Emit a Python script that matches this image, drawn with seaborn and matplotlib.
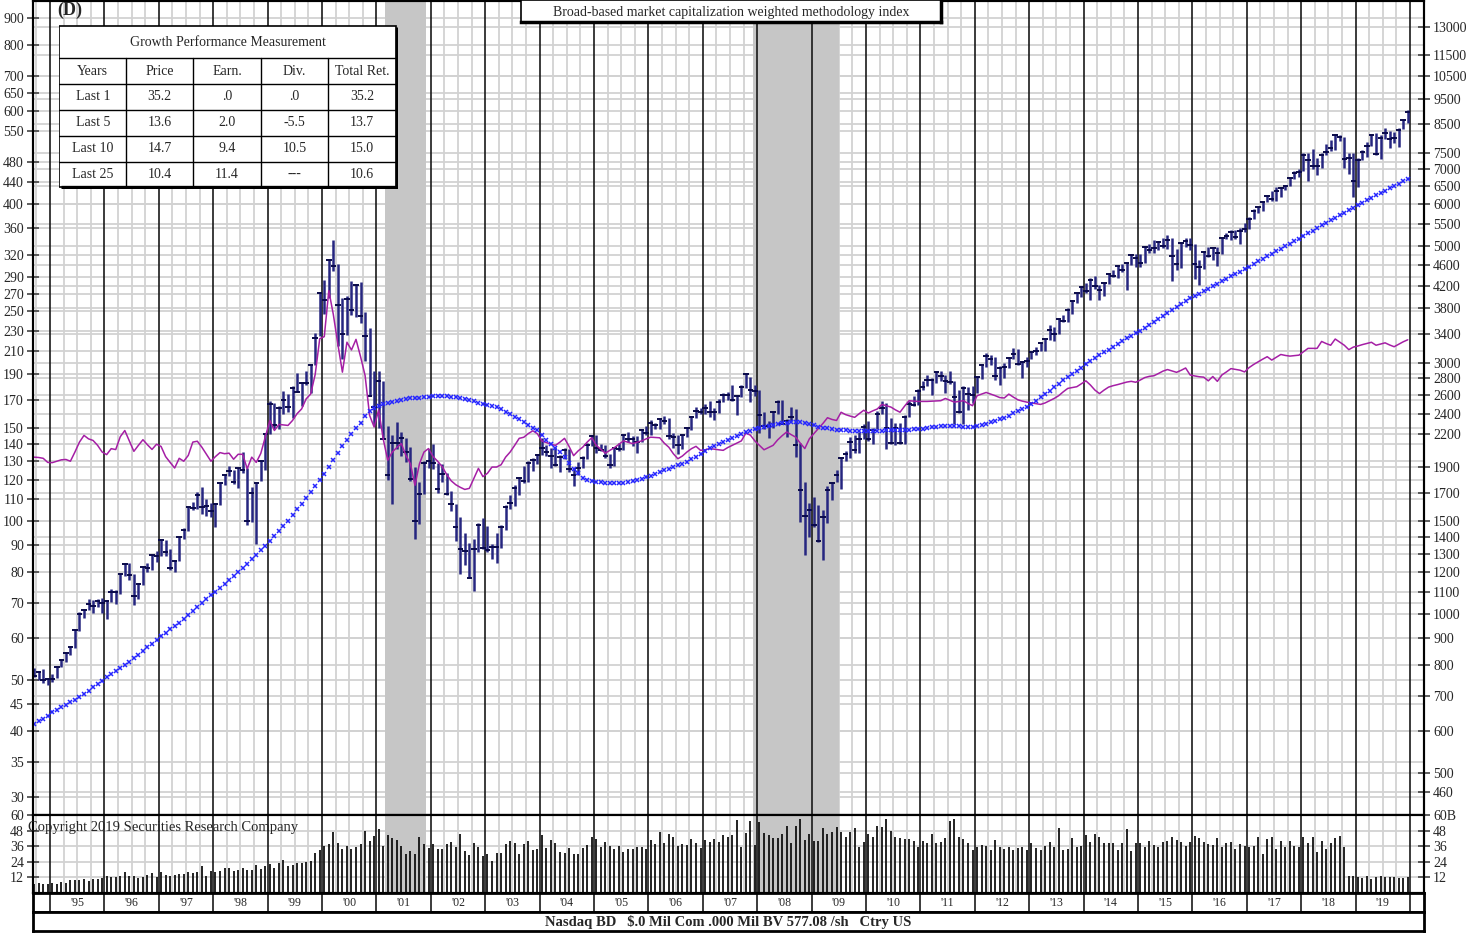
import numpy as np
import pandas as pd
import seaborn as sns
import matplotlib.pyplot as plt

# ---- data (index points, monthly Sep 1994 .. Dec 2019) ----
months = pd.date_range('1994-09-01', '2019-12-01', freq='MS')

close = [764, 777, 750, 752,
         755, 793, 817, 843, 865, 933, 1001, 1020, 1044, 1036, 1059, 1052,
         1060, 1100, 1101, 1191, 1243, 1185, 1081, 1141, 1227, 1222, 1293, 1291,
         1380, 1309, 1222, 1261, 1400, 1442, 1594, 1587, 1686, 1594, 1601, 1570,
         1619, 1771, 1835, 1868, 1779, 1895, 1873, 1499, 1694, 1771, 1950, 2193,
         2506, 2288, 2461, 2543, 2471, 2686, 2638, 2739, 2746, 2966, 3336, 4069,
         3940, 4697, 4573, 3861, 3401, 3966, 3767, 4206, 3673, 3370, 2598, 2471,
         2773, 2152, 1840, 2116, 2110, 2161, 2027, 1805, 1499, 1690, 1931, 1950,
         1934, 1731, 1845, 1688, 1616, 1463, 1328, 1315, 1172, 1330, 1479, 1336,
         1321, 1338, 1341, 1464, 1596, 1623, 1735, 1810, 1787, 1932, 1960, 2003,
         2066, 2030, 1994, 1920, 1987, 2048, 1887, 1838, 1897, 1975, 2097, 2175,
         2062, 2052, 1999, 1922, 2068, 2057, 2185, 2152, 2152, 2120, 2233, 2205,
         2306, 2281, 2340, 2323, 2179, 2172, 2091, 2184, 2258, 2367, 2432, 2415,
         2464, 2416, 2422, 2525, 2605, 2603, 2546, 2596, 2702, 2859, 2661, 2652,
         2390, 2271, 2279, 2413, 2523, 2293, 2326, 2368, 2092, 1721, 1536, 1577,
         1476, 1378, 1529, 1717, 1774, 1835, 1979, 2009, 2122, 2045, 2145, 2269,
         2147, 2238, 2398, 2461, 2257, 2109, 2255, 2114, 2369, 2507, 2498, 2653,
         2700, 2782, 2781, 2874, 2835, 2774, 2756, 2579, 2415, 2684, 2620, 2605,
         2814, 2967, 3092, 3046, 2827, 2935, 2940, 3067, 3116, 2977, 3010, 3020,
         3142, 3160, 3268, 3329, 3456, 3403, 3626, 3590, 3771, 3920, 4060, 4177,
         4104, 4308, 4199, 4115, 4243, 4408, 4370, 4580, 4493, 4631, 4792, 4736,
         4635, 4964, 4901, 4941, 5070, 4987, 5128, 4777, 4620, 5054, 5109, 5007,
         4614, 4558, 4870, 4775, 4948, 4843, 5162, 5213, 5312, 5189, 5324, 5383,
         5615, 5825, 5912, 6048, 6199, 6140, 6348, 6429, 6496, 6728, 6874, 6903,
         7411, 7273, 7063, 7066, 7442, 7510, 7672, 8110, 8046, 7306, 7331, 6635,
         7282, 7533, 7729, 8095, 7453, 8006, 8175, 7963, 7999, 8292, 8665, 8973]

high = [792, 781, 786, 758,
        770, 794, 822, 845, 869, 936, 1011, 1024, 1067, 1066, 1070, 1074,
        1066, 1114, 1111, 1191, 1249, 1249, 1190, 1146, 1227, 1249, 1293, 1316,
        1383, 1380, 1329, 1268, 1400, 1454, 1595, 1635, 1705, 1745, 1650, 1624,
        1619, 1771, 1842, 1911, 1876, 1895, 2028, 1893, 1745, 1772, 1950, 2200,
        2533, 2510, 2484, 2652, 2611, 2706, 2864, 2743, 2887, 2966, 3421, 4090,
        4303, 4697, 5132, 4617, 3969, 4012, 4290, 4233, 4260, 3748, 3488, 2890,
        2892, 2763, 2274, 2183, 2313, 2213, 2156, 2074, 1900, 1779, 1954, 2059,
        2098, 1935, 1929, 1849, 1714, 1621, 1528, 1427, 1364, 1386, 1492, 1521,
        1467, 1360, 1424, 1477, 1611, 1682, 1757, 1817, 1908, 1951, 1981, 2009,
        2154, 2092, 2070, 2079, 2001, 2064, 2054, 1890, 1941, 1999, 2107, 2191,
        2191, 2099, 2094, 2010, 2079, 2109, 2190, 2219, 2178, 2175, 2242, 2278,
        2333, 2300, 2345, 2375, 2354, 2205, 2185, 2186, 2261, 2378, 2468, 2465,
        2509, 2532, 2462, 2563, 2626, 2642, 2724, 2609, 2720, 2861, 2811, 2725,
        2661, 2420, 2326, 2423, 2551, 2550, 2341, 2473, 2451, 2112, 1781, 1626,
        1667, 1608, 1573, 1750, 1774, 1877, 1984, 2043, 2167, 2190, 2214, 2295,
        2326, 2250, 2423, 2535, 2519, 2353, 2305, 2306, 2384, 2534, 2592, 2671,
        2766, 2840, 2799, 2887, 2887, 2843, 2887, 2766, 2662, 2707, 2698, 2713,
        2828, 2980, 3134, 3097, 3075, 2954, 3000, 3079, 3196, 3182, 3023, 3069,
        3154, 3213, 3270, 3331, 3532, 3499, 3627, 3693, 3808, 3947, 4069, 4177,
        4246, 4342, 4371, 4210, 4247, 4409, 4486, 4580, 4610, 4641, 4810, 4814,
        4815, 4983, 5042, 5120, 5111, 5164, 5232, 5175, 4918, 5086, 5163, 5176,
        5040, 4689, 4893, 4969, 4958, 4980, 5180, 5272, 5343, 5343, 5400, 5513,
        5663, 5867, 5929, 6075, 6221, 6341, 6460, 6460, 6507, 6748, 6914, 6993,
        7506, 7486, 7637, 7318, 7487, 7806, 7934, 8133, 8110, 8049, 7486, 7486,
        7319, 7585, 7850, 8140, 8165, 8098, 8340, 8241, 8209, 8353, 8705, 9052]

low = [760, 751, 740, 735,
       743, 757, 793, 811, 838, 864, 931, 985, 1020, 1003, 1030, 1005,
       978, 1055, 1045, 1093, 1182, 1160, 1043, 1067, 1135, 1201, 1214, 1256,
       1291, 1289, 1212, 1201, 1262, 1390, 1435, 1578, 1586, 1547, 1538, 1527,
       1465, 1612, 1754, 1830, 1764, 1736, 1853, 1479, 1493, 1357, 1787, 1880,
       2194, 2240, 2247, 2392, 2413, 2355, 2638, 2486, 2715, 2627, 2962, 3363,
       3711, 3974, 4470, 3227, 3042, 3391, 3687, 3667, 3569, 3027, 2597, 2289,
       2251, 2152, 1794, 1619, 2059, 1995, 1944, 1791, 1387, 1480, 1687, 1891,
       1887, 1696, 1779, 1686, 1566, 1375, 1193, 1241, 1172, 1108, 1311, 1332,
       1314, 1271, 1253, 1335, 1445, 1585, 1602, 1681, 1770, 1784, 1867, 1926,
       2002, 1996, 1897, 1909, 1858, 1968, 1863, 1750, 1834, 1890, 1969, 2083,
       2021, 2040, 1978, 1890, 1911, 2035, 2050, 2124, 2088, 2025, 2118, 2183,
       2189, 2240, 2240, 2290, 2150, 2065, 2012, 2059, 2165, 2235, 2356, 2392,
       2394, 2370, 2331, 2406, 2525, 2551, 2538, 2386, 2580, 2681, 2528, 2589,
       2202, 2245, 2155, 2255, 2398, 2290, 2167, 2325, 1983, 1493, 1295, 1399,
       1465, 1372, 1265, 1492, 1647, 1780, 1727, 1955, 1980, 2024, 2025, 2151,
       2134, 2100, 2240, 2394, 2061, 2106, 2091, 2101, 2106, 2362, 2480, 2490,
       2665, 2705, 2603, 2743, 2766, 2629, 2736, 2299, 2411, 2298, 2441, 2519,
       2629, 2793, 2941, 2966, 2778, 2726, 2810, 2936, 3043, 2962, 2810, 2941,
       3045, 3105, 3149, 3154, 3310, 3295, 3400, 3577, 3586, 3715, 3884, 3997,
       4070, 3946, 4140, 3946, 4013, 4222, 4352, 4340, 4462, 4117, 4594, 4547,
       4563, 4628, 4838, 4844, 4899, 4953, 4933, 4292, 4487, 4542, 4973, 4899,
       4313, 4210, 4513, 4755, 4690, 4575, 4823, 5157, 5125, 5155, 5034, 5317,
       5377, 5607, 5765, 5806, 6040, 6081, 6086, 6177, 6374, 6485, 6678, 6751,
       6937, 6631, 6990, 6805, 7011, 7439, 7573, 7604, 7903, 7002, 6831, 6190,
       6457, 7254, 7359, 7735, 7440, 7292, 7964, 7662, 7811, 7700, 8305, 8542]

# long-term moving average (blue x line)
moving_avg = [620, 627, 634, 641,
              652, 659, 666, 673, 680, 688, 696, 706, 716, 726, 736, 748,
              760, 770, 780, 790, 800, 812, 824, 837, 851, 865, 879, 894,
              908, 922, 936, 950, 964, 980, 996, 1013, 1030, 1048, 1067, 1086,
              1103, 1122, 1141, 1160, 1180, 1202, 1224, 1247, 1270, 1295, 1321, 1348,
              1376, 1405, 1436, 1468, 1502, 1540, 1580, 1620, 1662, 1706, 1752, 1800,
              1845, 1900, 1960, 2020, 2080, 2140, 2195, 2250, 2305, 2375, 2425, 2458,
              2480, 2500, 2515, 2528, 2540, 2550, 2558, 2565, 2570, 2575, 2580, 2583,
              2587, 2590, 2590, 2588, 2584, 2578, 2570, 2560, 2548, 2535, 2520, 2505,
              2495, 2482, 2468, 2450, 2420, 2395, 2370, 2340, 2310, 2285, 2258, 2232,
              2190, 2140, 2100, 2070, 2030, 1985, 1935, 1885, 1850, 1815, 1800, 1790,
              1780, 1777, 1775, 1773, 1772, 1772, 1773, 1778, 1785, 1795, 1805, 1818,
              1830, 1845, 1860, 1873, 1887, 1900, 1915, 1930, 1947, 1965, 1985, 2010,
              2035, 2062, 2085, 2105, 2125, 2143, 2160, 2178, 2195, 2212, 2228, 2243,
              2255, 2265, 2275, 2285, 2293, 2300, 2306, 2310, 2313, 2310, 2303, 2293,
              2280, 2268, 2258, 2250, 2243, 2238, 2234, 2231, 2230, 2229, 2228, 2228,
              2228, 2228, 2229, 2230, 2231, 2232, 2233, 2234, 2236, 2238, 2240, 2243,
              2248, 2254, 2260, 2265, 2270, 2272, 2273, 2272, 2270, 2267, 2265, 2266,
              2270, 2282, 2296, 2311, 2327, 2343, 2360, 2380, 2402, 2425, 2450, 2476,
              2505, 2540, 2578, 2616, 2655, 2695, 2735, 2775, 2815, 2855, 2895, 2935,
              2975, 3015, 3055, 3095, 3135, 3175, 3215, 3255, 3295, 3335, 3375, 3415,
              3445, 3490, 3535, 3580, 3625, 3675, 3725, 3775, 3825, 3875, 3925, 3970,
              4010, 4055, 4100, 4145, 4190, 4235, 4280, 4325, 4370, 4415, 4462, 4510,
              4560, 4612, 4665, 4718, 4770, 4823, 4876, 4930, 4985, 5040, 5095, 5150,
              5210, 5272, 5335, 5398, 5461, 5524, 5587, 5650, 5713, 5776, 5840, 5905,
              5965, 6030, 6095, 6160, 6225, 6290, 6355, 6420, 6487, 6553, 6620, 6686]

# relative strength line (magenta), plotted on the same scale
rel_strength = [1985, 1982, 1975, 1940,
                1938, 1950, 1962, 1965, 1950, 2030, 2120, 2183, 2150, 2135, 2090, 2030,
                2007, 2060, 2052, 2170, 2230, 2130, 2036, 2090, 2142, 2095, 2053, 2100,
                2080, 1990, 1940, 1893, 1975, 1950, 2000, 2120, 2128, 2073, 2010, 1950,
                1990, 2025, 2015, 2020, 1967, 2010, 2010, 1887, 1985, 1940, 2018, 2170,
                2330, 2230, 2290, 2285, 2280, 2330, 2400, 2450, 2560, 2615, 2850, 3330,
                3360, 4107, 3700, 3250, 2877, 3279, 3170, 3320, 3080, 2836, 2382, 2264,
                2440, 2150, 1958, 2030, 2070, 2106, 2000, 1929, 1755, 1929, 2030, 2061,
                1990, 1950, 1905, 1840, 1790, 1760, 1740, 1724, 1732, 1810, 1890, 1823,
                1850, 1901, 1901, 1920, 1985, 2030, 2090, 2155, 2165, 2200, 2227, 2199,
                2131, 2115, 2100, 2090, 2120, 2155, 2080, 1998, 2040, 2073, 2120, 2161,
                2090, 2055, 2020, 2045, 2069, 2100, 2131, 2118, 2106, 2118, 2131, 2150,
                2166, 2163, 2160, 2110, 2073, 2015, 1971, 1995, 2030, 2060, 2081, 2045,
                2050, 2061, 2055, 2050, 2045, 2070, 2090, 2110, 2131, 2205, 2185, 2130,
                2090, 2050, 2070, 2090, 2140, 2180, 2216, 2190, 2166, 2110, 2061, 2150,
                2200, 2250, 2300, 2358, 2340, 2330, 2415, 2390, 2375, 2362, 2400, 2436,
                2407, 2430, 2450, 2499, 2485, 2470, 2440, 2415, 2480, 2540, 2535, 2532,
                2532, 2532, 2535, 2538, 2540, 2565, 2545, 2524, 2532, 2540, 2510, 2485,
                2596, 2615, 2633, 2615, 2596, 2575, 2570, 2614, 2580, 2550, 2535, 2524,
                2515, 2507, 2499, 2515, 2540, 2565, 2596, 2640, 2680, 2690, 2700, 2735,
                2770, 2720, 2660, 2620, 2660, 2695, 2712, 2725, 2740, 2755, 2764, 2753,
                2780, 2810, 2825, 2832, 2860, 2890, 2910, 2892, 2875, 2900, 2930, 2842,
                2830, 2820, 2815, 2770, 2823, 2764, 2842, 2880, 2922, 2912, 2902, 2880,
                2935, 2975, 3010, 3045, 3078, 3033, 3070, 3108, 3095, 3086, 3092, 3099,
                3145, 3192, 3192, 3192, 3290, 3260, 3236, 3325, 3280, 3236, 3174, 3210,
                3225, 3245, 3262, 3278, 3236, 3253, 3270, 3240, 3215, 3250, 3285, 3314]

# monthly volume (billions)
volume = [6.9, 7.7, 7.1, 7.1,
          7.7, 7.1, 8.4, 7.9, 9.7, 10.2, 9.7, 11.0, 8.9, 11.0, 11.0, 11.2,
          12.8, 12.2, 12.2, 12.8, 16.3, 12.8, 13.3, 11.2, 12.0, 14.0, 15.3, 12.5,
          15.8, 13.5, 13.3, 14.0, 14.3, 14.3, 16.3, 15.3, 16.3, 20.7, 13.0, 16.6,
          15.8, 16.6, 18.9, 19.1, 16.8, 17.9, 19.6, 17.9, 17.9, 21.4, 18.6, 20.7,
          22.4, 19.1, 22.7, 25.5, 20.4, 21.4, 23.0, 23.0, 23.5, 24.7, 31.1, 33.4,
          36.0, 37.8, 46.7, 38.3, 33.7, 36.0, 33.7, 35.7, 37.8, 48.0, 40.3, 44.1,
          49.0, 36.2, 44.6, 42.1, 40.8, 36.5, 29.8, 32.4, 30.1, 43.1, 37.8, 35.0,
          38.0, 33.9, 33.9, 38.0, 39.5, 35.2, 45.7, 32.4, 29.1, 38.3, 35.2, 28.6,
          30.1, 24.7, 30.9, 30.6, 37.8, 40.3, 38.3, 30.1, 37.5, 40.3, 33.2, 33.7,
          44.4, 34.4, 41.1, 38.8, 31.9, 31.1, 35.0, 30.1, 30.1, 34.4, 37.0, 43.1,
          41.6, 35.7, 39.0, 36.2, 33.9, 36.2, 31.9, 33.7, 33.9, 35.7, 35.2, 33.9,
          40.8, 37.5, 46.7, 38.3, 45.2, 42.9, 36.2, 37.5, 37.0, 41.3, 38.8, 34.4,
          40.8, 39.5, 41.3, 39.5, 44.4, 42.9, 44.6, 56.1, 35.2, 46.4, 55.6, 36.7,
          54.8, 45.9, 44.4, 42.1, 42.3, 45.2, 51.5, 38.8, 51.5, 56.6, 40.8, 45.4,
          40.0, 40.3, 49.7, 45.4, 46.7, 50.5, 46.7, 43.4, 47.2, 50.0, 35.7, 39.0,
          45.4, 42.9, 51.5, 50.5, 57.1, 47.7, 43.4, 42.6, 41.3, 41.3, 40.3, 35.7,
          40.3, 38.8, 45.4, 38.3, 39.5, 42.6, 55.4, 56.9, 43.4, 41.8, 38.3, 33.2,
          35.7, 37.0, 36.2, 33.2, 40.8, 35.2, 33.7, 35.2, 33.2, 34.4, 35.2, 33.2,
          38.3, 35.0, 33.2, 36.2, 39.0, 35.7, 49.7, 32.7, 33.7, 42.1, 35.2, 36.2,
          44.4, 39.3, 45.7, 43.4, 38.3, 38.3, 38.8, 33.2, 38.3, 49.0, 32.4, 38.3,
          38.3, 35.2, 40.3, 36.7, 35.7, 39.5, 40.3, 42.9, 40.8, 39.5, 36.2, 39.5,
          43.9, 42.1, 39.5, 37.5, 37.0, 42.1, 35.7, 38.3, 39.5, 33.9, 37.8, 36.2,
          35.7, 36.2, 42.9, 30.1, 41.3, 42.9, 33.7, 40.3, 35.7, 40.3, 36.2, 35.7,
          42.9, 38.8, 42.9, 31.9, 40.3, 33.7, 38.3, 42.6, 43.9, 35.2, 12.8, 13.3,
          12.0, 11.2, 13.3, 10.7, 12.5, 12.8, 12.0, 12.2, 12.0, 11.7, 11.2, 12.2]

left_ticks = [900, 800, 700, 650, 600, 550, 480, 440, 400, 360, 320, 290, 270, 250, 230,
              210, 190, 170, 150, 140, 130, 120, 110, 100, 90, 80, 70, 60, 50, 45, 40, 35, 30]
right_ticks = [13000, 11500, 10500, 9500, 8500, 7500, 7000, 6500, 6000, 5500, 5000, 4600,
               4200, 3800, 3400, 3000, 2800, 2600, 2400, 2200, 1900, 1700, 1500, 1400, 1300,
               1200, 1100, 1000, 900, 800, 700, 600, 500, 460]
left_factor = 15  # left scale = index / 15
vol_ticks = [12, 24, 36, 48, 60]
vol_left_labels = ['12', '24', '36', '48', '60']
vol_right_labels = ['12', '24', '36', '48', '60B']
recessions = [('2001-03-01', '2001-12-01'), ('2007-12-01', '2009-07-01')]
year_labels = ["'95", "'96", "'97", "'98", "'99", "'00", "'01", "'02", "'03", "'04", "'05",
               "'06", "'07", "'08", "'09", "'10", "'11", "'12", "'13", "'14", "'15", "'16",
               "'17", "'18", "'19"]

table_title = 'Growth Performance Measurement'
table_header = ['Years', 'Price', 'Earn.', 'Div.', 'Total Ret.']
table_rows = [['Last 1', '35.2', '.0', '.0', '35.2'],
              ['Last 5', '13.6', '2.0', '-5.5', '13.7'],
              ['Last 10', '14.7', '9.4', '10.5', '15.0'],
              ['Last 25', '10.4', '11.4', '---', '10.6']]

chart_title = 'Broad-based market capitalization weighted methodology index'
footer = 'Nasdaq BD   $.0 Mil Com .000 Mil BV 577.08 /sh   Ctry US'
copyright_txt = 'Copyright 2019 Securities Research Company'

# ---- helpers ----
t = np.asarray(months.year + (months.month - 0.5) / 12)


def dec_year(s):
    d = pd.Timestamp(s)
    return d.year + (d.dayofyear - 1) / 365


sns.set_style('white')
plt.rcParams['font.family'] = ['Liberation Serif', 'DejaVu Serif']

W, H = 1481, 934
fig = plt.figure(figsize=(W / 100, H / 100), dpi=100)


def box(x0, y0, x1, y1):
    return [x0 / W, 1 - y1 / H, (x1 - x0) / W, (y1 - y0) / H]


XL = (1994.6875, 2020.257)
GRID = '#d2d2d2'
years = range(1995, 2021)
quarters = [q for q in np.arange(1994.75, 2020.26, 0.25) if q % 1 != 0]


def frame(a, lw=1.5):
    for s in a.spines.values():
        s.set_color('black')
        s.set_linewidth(lw)
        s.set_visible(True)


def background(a):
    for q in quarters:
        a.axvline(q, color=GRID, lw=1.3, zorder=0.5)
    for r0, r1 in recessions:
        a.axvspan(dec_year(r0), dec_year(r1), color='#c6c6c6', lw=0, zorder=0.8)
    for y in years:
        a.axvline(y, color='#1a1a1a', lw=1.2, zorder=1)


# ---- price panel ----
ax = fig.add_axes(box(33, 1, 1424, 815))
ax.set_yscale('log')
ax.set_xlim(*XL)
ax.set_ylim(416, 14550)
for v in left_ticks:
    ax.axhline(v * left_factor, color=GRID, lw=1.3, zorder=0.5)
for v in right_ticks:
    ax.axhline(v, color=GRID, lw=1.3, zorder=0.5)
background(ax)

ax.vlines(t, low, high, color='#262680', lw=1.8, zorder=3)
ax.hlines(close, t - 0.05, t + 0.05, color='#0a0a4a', lw=1.4, zorder=3.5)
sns.lineplot(x=t, y=rel_strength, ax=ax, color='#a51fa5', lw=1.1, zorder=4)
sns.lineplot(x=t, y=moving_avg, ax=ax, color='#2626ff', lw=0, marker='x',
             markersize=3.2, markeredgewidth=1.1, markeredgecolor='#2626ff', zorder=4)

ax.set_yticks([v * left_factor for v in left_ticks])
ax.set_yticklabels([str(v) for v in left_ticks])
ax.set_yticks([], minor=True)
ax.tick_params(axis='y', direction='inout', length=9, width=1.2, color='#444444',
               labelsize=10, pad=2, left=True)
ax.tick_params(axis='x', bottom=False, labelbottom=False)
ax.set_xlabel('')
ax.set_ylabel('')
frame(ax)

ax2 = ax.twinx()
ax2.set_yscale('log')
ax2.set_ylim(ax.get_ylim())
ax2.set_yticks(right_ticks)
ax2.set_yticklabels([str(v) for v in right_ticks])
ax2.set_yticks([], minor=True)
ax2.tick_params(axis='y', direction='inout', length=9, width=1.2, color='#444444',
                labelsize=10, pad=2, right=True)
frame(ax2)

# ---- volume panel ----
axv = fig.add_axes(box(33, 815, 1424, 893))
axv.set_xlim(*XL)
axv.set_ylim(0, 60)
for v in vol_ticks[:-1]:
    axv.axhline(v, color=GRID, lw=1.3, zorder=0.5)
background(axv)
axv.vlines(t, 0, volume, color='#111111', lw=1.3, zorder=3)
axv.set_yticks(vol_ticks)
axv.set_yticklabels(vol_left_labels)
axv.tick_params(axis='y', direction='inout', length=9, width=1.2, color='#444444',
                labelsize=10, pad=2, left=True)
axv.tick_params(axis='x', bottom=False, labelbottom=False)
frame(axv)
axv2 = axv.twinx()
axv2.set_ylim(0, 60)
axv2.set_yticks(vol_ticks)
axv2.set_yticklabels(vol_right_labels)
axv2.tick_params(axis='y', direction='inout', length=9, width=1.2, color='#444444',
                 labelsize=10, pad=2, right=True)
frame(axv2)

# ---- year strip ----
axy = fig.add_axes(box(33, 893, 1424, 912))
axy.set_xlim(*XL)
axy.set_ylim(0, 1)
for y in years:
    axy.axvline(y, color='#1a1a1a', lw=1.2)
for y, lab in zip(range(1995, 2020), year_labels):
    axy.text(y + 0.5, 0.45, lab, ha='center', va='center', fontsize=8.5)
axy.set_xticks([])
axy.set_yticks([])
frame(axy, 2)

# ---- footer strip ----
axb = fig.add_axes(box(33, 912, 1424, 931))
axb.set_xticks([])
axb.set_yticks([])
axb.text(0.5, 0.45, footer, ha='center', va='center', fontsize=10.5,
         fontweight='bold', transform=axb.transAxes)
frame(axb, 2)

# ---- title box ----
axt = fig.add_axes(box(521, 0, 941, 22))
axt.set_xticks([])
axt.set_yticks([])
axt.text(0.5, 0.45, chart_title, ha='center', va='center', fontsize=10,
         transform=axt.transAxes)
frame(axt, 1.2)
axt.spines['right'].set_linewidth(2.5)
axt.spines['bottom'].set_linewidth(2.5)

# ---- performance table ----
tab = fig.add_axes(box(59, 25, 398, 189))
tab.set_xlim(59, 398)
tab.set_ylim(189, 25)
tab.axis('off')
tab.add_patch(plt.Rectangle((59.5, 25.5), 336.5, 161, fc='white', ec='black', lw=1.2))
tab.plot([396.5, 396.5], [27, 187.5], color='black', lw=2.4, solid_capstyle='butt')
tab.plot([61, 397.7], [187, 187], color='black', lw=2.4, solid_capstyle='butt')
col_edges = [59.5, 126, 193, 261, 328, 396]
row_edges = [25.5, 58, 84, 110, 136, 162, 186.5]
for yv in row_edges[1:-1]:
    tab.plot([59.5, 396], [yv, yv], color='black', lw=1.0)
for xv in col_edges[1:-1]:
    tab.plot([xv, xv], [58, 186.5], color='black', lw=1.0)
tab.text(228, 42, table_title, ha='center', va='center', fontsize=10)
for j, h in enumerate(table_header):
    tab.text((col_edges[j] + col_edges[j + 1]) / 2, 71.5, h, ha='center', va='center', fontsize=10)
for i, row in enumerate(table_rows):
    yc = (row_edges[i + 2] + row_edges[i + 3]) / 2
    for j, cell in enumerate(row):
        tab.text((col_edges[j] + col_edges[j + 1]) / 2, yc, cell, ha='center', va='center',
                 fontsize=10)

# ---- loose texts ----
fig.text(57 / W, 1 - 10 / H, '(D)', fontsize=13, fontweight='bold', va='center')
fig.text(28 / W, 1 - 827 / H, copyright_txt, fontsize=10.5, va='center')

fig.savefig('out.png', dpi=100)
